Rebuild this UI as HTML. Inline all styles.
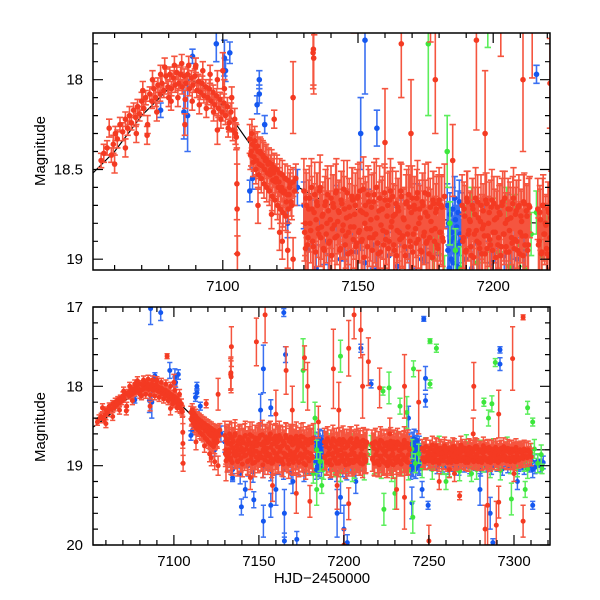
<!DOCTYPE html>
<html><head><meta charset="utf-8"><style>
html,body{margin:0;padding:0;background:#fff;}
svg{display:block;font-family:"Liberation Sans",sans-serif;}
</style></head><body>
<svg id="chart" width="600" height="600" viewBox="0 0 600 600">
<defs>
<clipPath id="clipTop"><rect x="93" y="33" width="457" height="237"/></clipPath>
<clipPath id="clipBot"><rect x="93" y="307" width="457" height="238"/></clipPath>
</defs>
<g id="topPanel"></g>
<g id="botPanel"></g>
<text x="0" y="0" transform="translate(45,151) rotate(-90)" text-anchor="middle" font-size="15">Magnitude</text>
<text x="0" y="0" transform="translate(45,427) rotate(-90)" text-anchor="middle" font-size="15">Magnitude</text>
<text x="322" y="583" text-anchor="middle" font-size="15">HJD−2450000</text>
</svg>
<script>
// model curve
const modelT = [7040,7052,7060,7070,7080,7088,7095,7105,7112,7120,7128,7140,7160,7180,7220,7330];
const modelM = [18.7,18.52,18.4,18.2,18.05,18.0,18.05,18.25,18.4,18.5,18.6,18.7,18.75,18.78,18.8,18.8];

// red individual points [t, mag, err]
const redPts = [
[7055.0,18.45,.04],[7056.0,18.41,.05],[7057.2,18.38,.04],[7058.0,18.27,.05],[7058.8,18.42,.04],[7059.5,18.36,.05],
[7060.3,18.30,.04],[7061.0,18.33,.05],[7062.0,18.25,.04],[7063.0,18.29,.05],[7064.0,18.22,.04],[7064.8,18.27,.04],
[7065.5,18.20,.05],[7066.2,18.24,.04],[7067.0,18.17,.04],[7067.8,18.21,.05],[7068.5,18.15,.04],[7069.2,18.19,.04],
[7070.0,18.12,.05],[7070.8,18.16,.04],[7071.5,18.10,.04],[7072.2,18.25,.05],[7073.0,18.08,.04],[7073.8,18.12,.04],
[7074.5,18.05,.04],[7075.2,18.10,.05],[7076.0,18.03,.04],[7076.8,18.08,.04],[7077.5,18.02,.04],[7078.2,18.06,.04],
[7079.0,17.98,.04],[7079.7,18.04,.04],[7080.4,17.97,.04],[7081.0,18.05,.04],[7081.7,17.99,.04],[7082.4,18.03,.04],
[7083.0,17.96,.04],[7083.7,18.02,.04],[7084.4,17.97,.04],[7085.0,18.04,.04],[7085.7,17.98,.04],[7086.4,18.02,.04],
[7087.0,17.97,.04],[7087.7,18.05,.04],[7088.4,17.99,.04],[7089.0,18.03,.04],[7089.7,17.98,.04],[7090.4,18.06,.04],
[7091.0,18.01,.04],[7091.7,18.07,.04],[7092.4,18.02,.04],[7093.0,18.09,.04],[7093.7,18.04,.04],[7094.4,18.10,.04],
[7095.0,18.05,.05],[7095.7,18.12,.04],[7096.4,18.07,.04],[7097.0,18.14,.05],[7097.7,18.09,.04],[7098.4,18.16,.05],
[7099.0,18.11,.04],[7099.7,18.18,.05],[7100.4,18.13,.05],[7101.0,18.20,.05],[7101.7,18.15,.05],[7102.4,18.24,.05],
[7103.0,18.18,.05],[7103.7,18.28,.06],[7104.4,18.22,.06],[7105.0,18.32,.07],
[7078.5,17.93,.05],[7080.9,18.12,.05],[7082.1,17.92,.05],[7083.4,18.10,.05],[7084.8,17.91,.05],[7086.1,18.11,.05],
[7087.4,17.92,.05],[7088.7,18.12,.05],[7089.9,17.93,.05],[7091.3,18.14,.05],[7092.6,17.95,.05],[7093.9,18.16,.05],
[7095.3,17.97,.05],[7096.6,18.18,.05],[7098.0,18.00,.05],[7099.3,18.22,.05],[7100.6,18.05,.05],[7102.0,18.27,.05],
[7103.3,18.10,.06],[7104.7,18.30,.06],[7074.0,18.00,.05],[7075.6,18.18,.05],[7077.0,17.97,.05],[7070.4,18.06,.05],
[7064,18.38,.05],[7086,18.25,.06],[7068,18.30,.05],[7060,18.47,.05],[7072,18.31,.05],[7080,18.10,.05],[7090,17.92,.04],
[7096,17.62,.03],[7100,17.95,.1],[7098,18.28,.08],
[7105.2,18.58,.2],[7105.3,18.72,.25],[7105.4,18.97,.1],
[7113,18.70,.1],[7118,18.75,.08],[7121,18.85,.1],[7122,18.90,.1],[7124,18.95,.1],[7126,19.00,.12],[7119,18.22,.05],[7126,18.10,.2],
[7130.6,18.94,.25],[7133.8,17.50,.25],[7133.5,17.83,.2],[7133.6,17.88,.2],[7148.5,17.44,.3],[7153.6,17.10,.35],
[7176.8,17.64,.15],[7193.8,17.78,.5],[7202.8,17.52,.35],[7209.9,17.29,.35],[7206,17.10,.3],[7214.4,17.69,.3],
[7221,18.02,.25],[7235.6,18.00,.4],[7250,19.95,.2],[7276.4,18.00,.3],[7299.2,17.65,.4],[7305.4,17.13,.03],
[7305.4,19.70,.2],[7291,19.46,.2],[7284.5,19.50,.5],[7289.6,19.75,.3],[7268,19.38,.05],[7265,19.10,.1],
[7225.7,19.00,.15],[7235.6,19.40,.4],[7276,18.60,.2],[7291,18.35,.3],[7178.6,18.00,.3],[7169.6,18.30,.3],
[7166,17.80,.3],[7133.4,17.85,.2],[7202.8,19.48,.2],[7200,20.00,.2],[7211,18.00,.4],[7227,18.60,.2],
[7145,19.15,.15],[7158,19.25,.2],[7172,19.35,.25],[7180,19.45,.2],[7196,19.25,.3],[7231,19.30,.25],[7256,19.20,.1],
[7262,19.05,.1],[7283,19.80,.3],[7300,19.10,.1],[7160,18.35,.3],[7185,18.45,.2],[7244,18.20,.4],[7197,18.30,.35]
];
// red regular-cadence runs [t0, dt, err, mags]
const redRuns = [
[7110,0.5,0.08,[18.33,18.40,18.36,18.43,18.38,18.45,18.40,18.47,18.41,18.48,18.43,18.50,18.44,18.52,18.46,18.53,18.47,18.56,18.49,18.57,18.50,18.60,18.52,18.62,18.53,18.63,18.55,18.68,18.56,18.64,18.58,18.70,18.57,18.62,18.55]],
[7110.25,0.5,0.08,[18.42,18.30,18.46,18.34,18.50,18.37,18.53,18.40,18.55,18.42,18.58,18.45,18.60,18.47,18.62,18.50,18.65,18.52,18.67,18.55,18.70,18.57,18.72,18.60,18.74,18.62,18.76,18.64,18.72,18.60,18.68]],
[7130,0.5,0.18,[18.62,18.80,18.70,18.88,18.66,18.84,18.72,18.93,18.64,18.78,18.70,18.86,18.60,18.82,18.75,18.95,18.68,18.80,18.73,18.90,
18.66,18.83,18.71,18.88,18.62,18.79,18.74,18.94,18.69,18.81,18.72,18.87,18.63,18.85,18.76,18.96,18.67,18.82,18.70,18.91,
18.65,18.84,18.73,18.89,18.61,18.80,18.75,18.93,18.68,18.83,18.71,18.88,18.64,18.86,18.77,18.97,18.66,18.81,18.72,18.92,
18.67,18.85,18.70,18.90,18.62,18.79,18.76,18.95,18.69,18.84,18.73,18.89,18.65,18.87,18.78,18.98,18.68,18.82,18.71,18.93,
18.66,18.86,18.72,18.91,18.63,18.80,18.77,18.96,18.70,18.85,18.74,18.90,18.64,18.88,18.79,18.99,18.69,18.83,18.72,18.94,
18.67,18.85,18.71,18.90,18.65]],
[7130.25,0.5,0.16,[18.85,18.66,18.92,18.72,18.80,18.60,18.90,18.74,18.96,18.68,18.83,18.62,18.88,18.76,18.94,18.70,18.86,18.64,18.91,18.78,
18.98,18.69,18.81,18.63,18.87,18.73,18.95,18.67,18.84,18.61,18.92,18.77,18.97,18.71,18.82,18.65,18.89,18.75,18.93,18.66,
18.85,18.62,18.90,18.74,18.99,18.70,18.83,18.64,18.88,18.78,18.95,18.68,18.86,18.60,18.91,18.73,18.96,18.72,18.84,18.63,
18.89,18.76,18.94,18.67,18.82,18.65,18.92,18.75,18.98,18.71,18.85,18.62,18.88,18.77,18.93,18.69,18.86,18.64,18.90,18.74,
18.96,18.70,18.83,18.66,18.89,18.72,18.95,18.68,18.87,18.63,18.91,18.76,18.97,18.71,18.84,18.67,18.90,18.74,18.92,18.69,18.85,18.70,18.88]],
[7188.5,0.5,0.17,[18.70,18.88,18.76,18.95,18.68,18.84,18.79,18.98,18.72,18.86,18.66,18.90,18.77,18.94,18.70,18.83,18.81,18.97,18.69,18.87,
18.74,18.92,18.67,18.85,18.78,18.99,18.71,18.88,18.75,18.93,18.68,18.86,18.80,18.96,18.72,18.84,18.77,18.91,18.66,18.89,
18.73,18.95,18.70,18.85,18.79,18.98,18.69,18.87,18.76,18.92,18.71]],
[7188.75,0.5,0.15,[18.90,18.72,18.96,18.66,18.86,18.78,18.93,18.70,18.99,18.75,18.84,18.68,18.91,18.79,18.97,18.73,18.87,18.67,18.94,18.80,
18.89,18.71,18.95,18.69,18.85,18.77,18.92,18.74,18.98,18.70,18.86,18.66,18.93,18.78,18.96,18.72,18.88,18.69,18.94,18.75,18.90,18.71,18.97,18.76,18.87,18.68,18.92,18.73,18.95,18.70]],
[7216.5,0.5,0.17,[18.72,18.90,18.78,18.96,18.70,18.86,18.81,18.97,18.74,18.88,18.68,18.92,18.79,18.95,18.72,18.85,18.82,18.98,18.71,18.89,
18.76,18.93,18.69,18.87,18.80,18.99,18.73,18.90,18.77,18.94,18.70,18.88,18.81,18.96,18.74,18.86,18.78,18.92,18.68,18.90,
18.75,18.95,18.72,18.86,18.80]],
[7216.75,0.5,0.15,[18.92,18.74,18.97,18.70,18.86,18.80,18.94,18.72,18.99,18.77,18.88,18.69,18.93,18.81,18.96,18.75,18.87,18.71,18.95,18.79,18.90,18.73,18.97,18.76,18.85,18.70,18.92,18.78,18.96,18.74,18.89,18.72,18.94,18.80,18.98,18.75,18.87,18.71,18.93,18.77,18.91,18.73,18.96,18.78]],
[7246,0.6,0.11,[18.78,18.90,18.82,18.94,18.76,18.88,18.84,18.92,18.79,18.87,18.74,18.91,18.83,18.95,18.77,18.86,18.85,18.93,18.78,18.89,
18.81,18.94,18.75,18.88,18.84,18.96,18.79,18.90,18.82,18.93,18.76,18.87,18.85,18.95,18.80,18.89,18.83,18.92,18.74,18.90,
18.81,18.94,18.78,18.88,18.84,18.96,18.77,18.89,18.82,18.93,18.79,18.91,18.76,18.87,18.85,18.95,18.80,18.90,18.83,18.94,
18.75,18.89,18.82,18.93,18.78,18.91,18.84,18.96,18.79,18.88,18.81,18.94,18.77,18.90,18.85,18.95,18.80,18.89,18.83,18.92,
18.76,18.88,18.81,18.94,18.78,18.90,18.84,18.93,18.79,18.89,18.82,18.95,18.77,18.87,18.83,18.92,18.80,18.90,18.84,18.91,
18.79,18.88,18.82,18.90,18.80,18.87,18.83,18.89]],
[7246.3,0.6,0.1,[18.92,18.80,18.95,18.76,18.89,18.83,18.94,18.78,18.91,18.85,18.96,18.80,18.88,18.75,18.93,18.82,18.97,18.79,18.90,18.84,
18.94,18.77,18.89,18.81,18.95,18.78,18.92,18.85,18.96,18.80,18.88,18.76,18.93,18.83,18.95,18.79,18.90,18.84,18.94,18.77,
18.89,18.82,18.96,18.80,18.91,18.85,18.93,18.78,18.88,18.83,18.95,18.79,18.90,18.76,18.94,18.82,18.92,18.80,18.96,18.84,
18.89,18.78,18.93,18.81,18.95,18.77,18.90,18.85,18.94,18.80,18.88,18.83,18.92,18.79,18.96,18.82,18.90,18.78,18.93,18.84,
18.89,18.80,18.94,18.82,18.91,18.79,18.95,18.83,18.90,18.81,18.92,18.80,18.88,18.84,18.93,18.81,18.90,18.82,18.89,18.80]]
];
// blue points
const bluePts = [
[7086.3,17.02,.2],[7092.2,17.07,.1],[7164.6,17.07,.05],[7165.6,17.60,.1],[7152.6,17.78,.3],[7151,18.30,.2],[7157,18.27,.1],
[7139.7,19.52,.1],[7147,19.43,.1],[7152.6,19.70,.2],[7157,19.50,.15],[7165,19.60,.3],[7165,19.95,.1],[7172.3,19.93,.1],
[7210,17.52,.05],[7216,17.97,.05],[7200,19.80,.3],[7202,19.97,.1],[7238,18.40,.15],[7247,17.15,.03],[7248,17.90,.15],
[7248,18.18,.08],[7249.5,19.50,.05],[7291.8,17.54,.04],[7291.8,17.72,.08],[7311,19.50,.05],[7311,19.05,.1],[7287.6,19.97,.05],
[7134.5,19.15,.05],[7113.5,18.00,.05],[7113.5,18.08,.05],[7112.7,18.14,.05],[7115.5,18.25,.05],[7100.6,17.88,.1],[7097.6,17.80,.1],
[7088.8,17.87,.04],[7085.6,18.18,.15],[7087,18.20,.2],[7102.6,17.85,.06],[7101,17.95,.06],[7127.6,18.60,.1],[7240,19.47,.2],
[7246,19.30,.1],[7160,19.30,.2],[7170,19.20,.15],[7142,19.30,.1],[7196,19.60,.3],[7198,19.40,.2],[7207,19.20,.15],
[7280,19.30,.2],[7286,19.60,.2],[7302,19.20,.1],[7110,18.62,.06],[7111,18.55,.06],[7124,18.80,.08],[7077,18.17,.04]
];
const blueRuns = [
[7130,1.5,0.13,[18.70,18.95,18.80,19.05,18.75,18.90,19.10,18.85,18.72,19.00,18.88,19.08,18.78,18.96,18.82,19.02,18.74,18.92,19.06,18.86,
18.76,18.98,18.84,19.04,18.80,18.94,19.10,18.83,18.71,19.00,18.89,19.07,18.79,18.97]],
[7183,0.25,0.12,[18.70,18.95,18.80,19.05,18.75,18.90,19.00,18.85,18.72,19.02,18.88,18.66,18.78,18.96,18.82,19.04,18.74,18.92,18.68,18.86,18.90]],
[7188.5,1.2,0.12,[18.75,19.00,18.85,19.05,18.80,18.95,19.08,18.82,18.78,19.02,18.90,19.06,18.84,18.98,18.76,19.04,18.88,19.00,18.80,18.94,18.86]],
[7238.5,0.25,0.12,[18.72,18.95,18.80,19.05,18.75,18.90,19.00,18.85,18.70,19.02,18.88,18.66,18.78,18.96,18.82,19.04,18.74,18.92,18.68,18.86,18.90,18.80,18.98,18.75,19.00,18.84,18.94]],
[7250,1.6,0.08,[18.92,18.98,18.95,19.02,18.90,19.00,18.96,19.03,18.93,18.99,18.97,19.04,18.91,19.00,18.95,19.02,18.92,18.98,18.96,19.05,
18.94,19.00,18.97,19.03,18.92,18.99,18.95,19.04,18.93,19.01,18.96,19.02,18.94,18.99,18.97,19.03,18.92,19.00,18.95,19.02,18.94,19.00,18.96]]
];
// green points
const greenPts = [
[7198,17.62,.2],[7183,18.40,.2],[7240.9,17.78,.1],[7250.6,17.43,.03],[7254.4,17.52,.05],[7250.6,17.97,.05],[7226.5,18.02,.2],
[7223,18.06,.05],[7233,18.25,.1],[7308,18.27,.08],[7311,18.45,.05],[7289,17.70,.05],[7287,18.22,.1],[7298.5,19.42,.2],
[7306.6,19.30,.1],[7316.5,19.04,.06],[7184,19.30,.2],[7187,19.25,.1],[7223.5,19.55,.2],[7240.5,19.65,.2],[7282.3,18.20,.05],
[7237,18.33,.2],[7285,18.40,.1],[7176,17.80,.4],[7205,18.90,.3],[7260,19.20,.1],[7275,19.10,.1],[7230,19.35,.2]
];
const greenRuns = [
[7176,2,0.12,[18.75,19.00,18.85,19.10,18.80,18.95,19.05,18.82,18.72,19.02,18.90,19.08,18.78,18.96,18.84,19.04,18.76,18.92,19.06,18.86,
18.74,18.98,18.88,19.04,18.80,18.94,19.08,18.83,18.70,19.00,18.89,19.06,18.79,18.97,18.85,19.03,18.77,18.93,19.05,18.87,
18.75,18.99,18.86,19.02,18.81,18.95,19.07,18.84,18.73,19.01,18.90,19.05,18.80,18.96,18.85,19.03,18.78,18.94,19.06,18.86,
18.76,18.98,18.88,19.02,18.82,18.95,19.04,18.84,18.79,18.97,18.86]]
];

const NS = 'http://www.w3.org/2000/svg';
function mk(tag, attrs, parent){const e=document.createElementNS(NS,tag);for(const k in attrs)e.setAttribute(k,attrs[k]);parent.appendChild(e);return e;}

function expand(pts, runs){
  const out = pts.slice();
  runs.forEach(r=>{r[3].forEach((m,i)=>out.push([r[0]+r[1]*i, m, r[2]]));});
  return out;
}
const redAll = expand(redPts, redRuns);
const blueAll = expand(bluePts, blueRuns);
const greenAll = expand(greenPts, greenRuns);

const panels = [
 {g:'topPanel', clip:'clipTop', x0:93, x1:550, y0:33, y1:270, t0:7052, t1:7221, m0:17.74, m1:19.06,
  xMajor:[7100,7150,7200], xMinorStep:10, yMajor:[18,18.5,19], yLabels:['18','18.5','19'], yMinorStep:0.1, cap:3.2, r:2.8, sw:1.6, name:'top'},
 {g:'botPanel', clip:'clipBot', x0:93, x1:550, y0:307, y1:545, t0:7052.4, t1:7321.2, m0:17, m1:20,
  xMajor:[7100,7150,7200,7250,7300], xMinorStep:10, yMajor:[17,18,19,20], yLabels:['17','18','19','20'], yMinorStep:0.2, cap:2.6, r:2.5, sw:1.5, name:'bottom'}
];

panels.forEach(p=>{
  const g = document.getElementById(p.g);
  const X = t => p.x0 + (t-p.t0)/(p.t1-p.t0)*(p.x1-p.x0);
  const Y = m => p.y0 + (m-p.m0)/(p.m1-p.m0)*(p.y1-p.y0);
  const plot = mk('g',{'clip-path':'url(#'+p.clip+')'},g);
  
  
  let d = '';
  modelT.forEach((t,i)=>{d += (i?'L':'M') + X(t).toFixed(1) + ',' + Y(modelM[i]).toFixed(1);});
  const curve = mk('path',{d:d,fill:'none',stroke:'#000','stroke-width':1.2},plot);
  
  
  function series(data, col, barCol, nm){
    const sg = mk('g',{},plot);
    
    
    let bars = '';
    data.forEach(pt=>{
      const x = X(pt[0]), ya = Y(pt[1]-pt[2]), yb = Y(pt[1]+pt[2]);
      bars += 'M'+x.toFixed(1)+','+ya.toFixed(1)+'V'+yb.toFixed(1);
      bars += 'M'+(x-p.cap).toFixed(1)+','+ya.toFixed(1)+'h'+(2*p.cap);
      bars += 'M'+(x-p.cap).toFixed(1)+','+yb.toFixed(1)+'h'+(2*p.cap);
    });
    const bp = mk('path',{d:bars,fill:'none',stroke:barCol,'stroke-width':p.sw},sg);
    
    
    data.forEach(pt=>{
      const c = mk('circle',{cx:X(pt[0]).toFixed(1),cy:Y(pt[1]).toFixed(1),r:p.r,fill:col},sg);
      
      
    });
  }
  series(blueAll,'#1457f0','#3a70f2','blue');
  series(greenAll,'#3ce63c','#5cee5c','green');
  series(redAll,'#f43a22','#f5553f','red');
  const fr = mk('rect',{x:p.x0,y:p.y0,width:p.x1-p.x0,height:p.y1-p.y0,fill:'none',stroke:'#000','stroke-width':1.5},g);
  
  
  let tk = '';
  for(let t=Math.ceil(p.t0/p.xMinorStep)*p.xMinorStep; t<=p.t1; t+=p.xMinorStep){
    const x=X(t); const L = (t%50===0)?10:5;
    tk += 'M'+x.toFixed(1)+','+p.y1+'v'+(-L)+'M'+x.toFixed(1)+','+p.y0+'v'+L;
  }
  for(let k=Math.ceil(p.m0/p.yMinorStep-1e-6); k*p.yMinorStep<=p.m1+1e-6; k++){
    const m=k*p.yMinorStep; const y=Y(m);
    const major = p.yMajor.some(v=>Math.abs(v-m)<1e-6);
    const L = major?10:5;
    tk += 'M'+p.x0+','+y.toFixed(1)+'h'+L+'M'+p.x1+','+y.toFixed(1)+'h'+(-L);
  }
  const tp = mk('path',{d:tk,stroke:'#000','stroke-width':1.2,fill:'none'},g);
  
  
  p.xMajor.forEach(t=>{
    const tx = mk('text',{x:X(t).toFixed(1),y:p.y1+21,'text-anchor':'middle','font-size':15},g);
    tx.textContent = String(t);
    
    
  });
  p.yMajor.forEach((m,i)=>{
    const ty = mk('text',{x:p.x0-10,y:(Y(m)+5).toFixed(1),'text-anchor':'end','font-size':15},g);
    ty.textContent = p.yLabels[i];
    
    
  });
});
</script>
</body></html>
